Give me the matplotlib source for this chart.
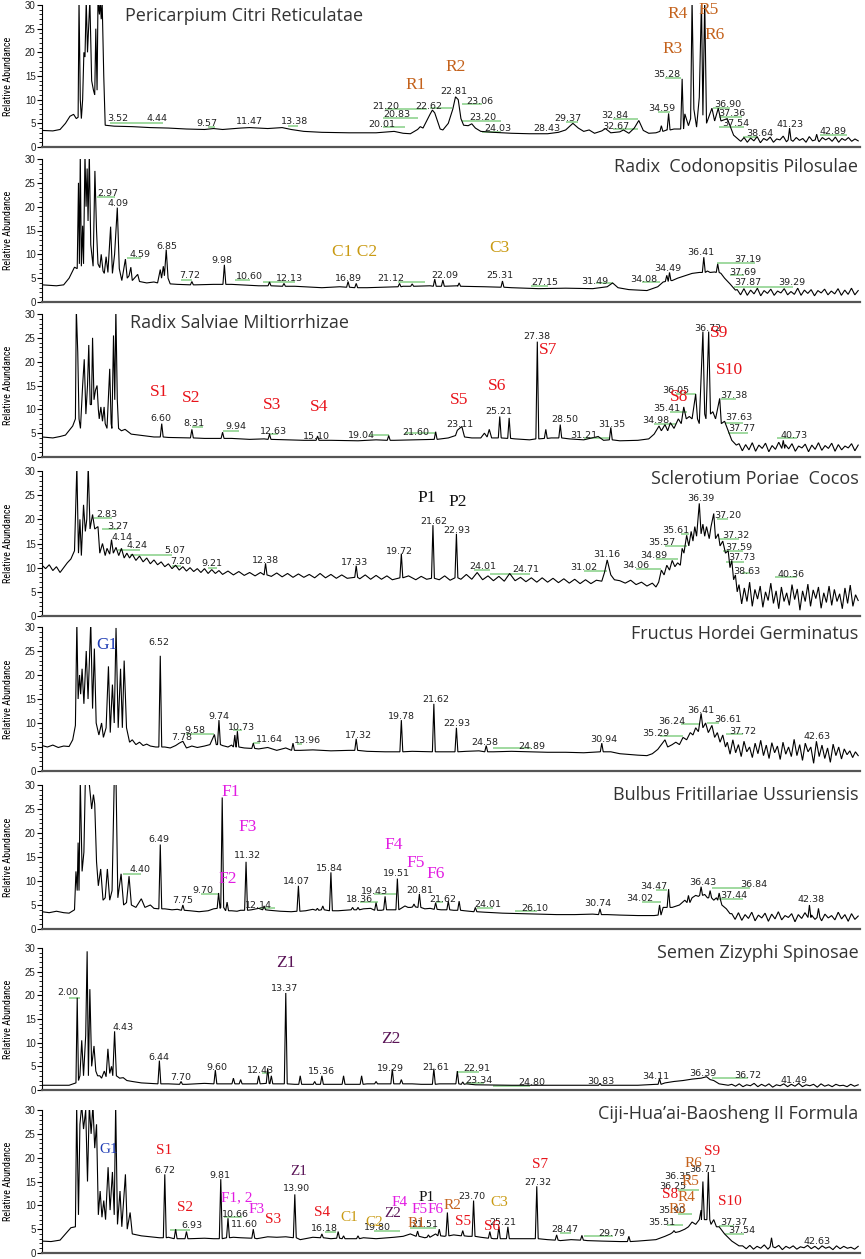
import numpy as np
import matplotlib
matplotlib.use("Agg")
import matplotlib.pyplot as plt
from matplotlib import font_manager as fm

# ---------------- fonts ----------------
_avail = {f.name for f in fm.fontManager.ttflist}
def pick(*names):
    for n in names:
        if n in _avail:
            return n
    return "DejaVu Sans"
NARROW = pick("Liberation Sans Narrow", "Roboto Condensed", "DejaVu Sans")
TITLEF = pick("Open Sans", "Noto Sans", "DejaVu Sans")
SERIF = pick("Liberation Serif", "DejaVu Serif")
SANS = pick("Liberation Sans", "DejaVu Sans")

# ---------------- colours of marker labels ----------------
COL = {"R": "#C4621C", "C": "#C99A12", "S": "#E8141B", "P": "#111111",
       "G": "#1E3CB4", "F": "#E21CE2", "Z": "#5A1457"}

# ================= DATA =================
# ---- Panel 1 : Pericarpium Citri Reticulatae
p1_title = "Pericarpium Citri Reticulatae"
p1_base = [(0.0,3.5),(0.6,3.4),(1.0,3.7),(1.3,5.0),(1.55,6.5),(1.75,6.9),(1.9,6.0),(2.0,6.3),
    (2.05,31),(2.12,10),(2.18,6.0),(2.25,10),(2.32,20),(2.38,19),(2.45,31),(2.52,20),(2.58,25),(2.65,31),
    (2.75,14),(2.85,12),(2.92,11),(2.98,25),(3.05,12),(3.1,31),(3.18,28),(3.22,31),(3.28,27),(3.33,31),
    (3.42,15),(3.5,4.6),(4.0,4.4),(5.0,4.3),(6.0,4.1),(7.0,4.0),(8.0,3.8),(9.0,3.7),(9.5,3.9),(10.0,3.7),
    (11.0,4.0),(11.5,4.1),(12.5,3.9),(13.3,4.1),(13.8,3.7),(14.5,3.3),(15.5,3.1),(17.0,3.0),(18.5,3.0),
    (19.5,3.3),(20.0,2.9),(20.4,2.8),(20.8,3.7),(20.95,4.3),(21.1,4.0),(21.3,5.5),(21.5,7.0),(21.62,7.8),
    (21.75,7.2),(21.9,5.5),(22.05,3.8),(22.2,3.6),(22.5,5.0),(22.75,8.0),(22.9,10.6),(23.05,10.0),(23.2,6.0),
    (23.35,4.6),(23.6,4.5),(23.8,4.9),(24.0,4.0),(24.3,3.3),(25.0,3.1),(26.0,2.9),(27.0,2.8),(28.0,2.8),
    (28.6,3.1),(29.0,3.6),(29.4,5.0),(29.7,4.0),(30.0,3.3),(30.3,3.6),(30.6,2.9),(31.0,3.4),(31.2,3.9),
    (31.5,3.0),(32.0,3.2),(32.2,3.6),(32.5,2.9),(32.8,4.0),(33.05,5.6),(33.3,3.5),(33.6,2.9),(34.0,3.0),
    (34.6,3.6),(35.0,3.8),(35.6,7.0),(35.8,4.5),(35.92,6),(36.0,31),(36.1,8),(36.25,4.2),(36.4,10.5),
    (36.52,31),(36.6,6.7),(36.7,31),(36.8,5.0),(37.1,8.2),(37.25,5.5),(37.45,8.2),(37.6,5.5),(37.95,6.0),
    (38.3,2.5),(38.6,1.5)]
p1_peaks = [(34.3,4.5,3.3),(34.7,7.1,3.6),(35.45,14.4,3.8),(41.4,4.0,1.5),(42.9,2.7,1.5)]
p1_noise_span = (38.7, 45.2)
p1_noise = [1.2,2.0,1.0,1.9,1.3,2.2,0.9,1.8,1.4,2.1,1.0,1.7,1.5,2.3,1.1,1.9,1.2,2.0,1.4,1.8,1.0,2.2,
            1.3,1.7,1.1,2.0,1.5,1.9,1.2,2.1,1.0,1.8,1.4,2.0,1.2,1.7,1.3]
p1_rt = [("3.52",4.2,6.1),("4.44",6.35,6.1),("9.57",9.15,5.0),("11.47",11.5,5.4),("13.38",14.0,5.4),
    ("21.20",19.05,8.6),("20.83",19.65,6.9),("20.01",18.8,4.8),("22.62",21.4,8.6),("22.81",22.8,11.8),
    ("23.06",24.25,9.7),("23.20",24.4,6.2),("24.03",25.25,3.9),("28.43",27.95,3.9),("29.37",29.1,6.0),
    ("32.84",31.7,6.7),("32.67",31.8,4.4),("34.59",34.3,8.1),("35.28",34.6,15.3),("36.90",38.0,9.0),
    ("37.36",38.2,7.1),("37.54",38.4,5.0),("38.64",39.75,2.9),("41.23",41.4,4.8),("42.89",43.8,3.2)]
p1_green = [(3.77,6.7,5.0),(9.2,9.6,4.3),(13.6,14.2,4.5),(19.0,21.3,8.0),(18.9,20.8,6.1),(18.9,20.1,4.2),
    (21.5,22.7,8.2),(23.25,24.35,9.0),(23.25,25.4,5.5),(24.35,25.4,3.2),(29.0,29.7,5.2),(31.6,33.0,5.9),
    (31.6,33.0,3.9),(34.1,34.8,7.5),(34.5,35.4,14.5),(37.15,38.1,8.2),(37.5,38.75,6.3),(37.5,38.9,4.2),
    (38.8,39.6,2.1),(43.1,44.6,2.5)]
p1_marks = [("R1",20.7,13.0,"R"),("R2",22.9,16.8,"R"),("R3",34.9,20.7,"R"),("R4",35.2,28.1,"R"),
    ("R5",36.9,28.9,"R"),("R6",37.25,23.7,"R")]

# ---- Panel 2 : Radix Codonopsitis Pilosulae
p2_title = "Radix  Codonopsitis Pilosulae"
p2_base = [(0.0,3.6),(0.8,3.4),(1.2,3.6),(1.5,5.0),(1.8,7.3),(1.95,7.0),(2.02,25),(2.07,8),(2.12,31),
    (2.18,7.5),(2.25,16),(2.3,8),(2.38,31),(2.44,20),(2.5,28),(2.55,17),(2.62,31),(2.7,12),(2.83,7.5),
    (2.93,27.5),(3.02,15),(3.1,8),(3.2,7.2),(3.28,10),(3.38,6.5),(3.45,6),(3.55,9.5),(3.65,6.2),(3.8,15.8),
    (3.9,6),(4.02,10),(4.17,19.8),(4.28,7),(4.42,4.5),(4.62,9.0),(4.72,5),(4.82,5.5),(4.92,7.3),(5.0,4.5),
    (5.3,5.8),(5.4,4.3),(5.8,4.0),(6.2,4.2),(6.4,4.0),(6.55,6.8),(6.62,5),(6.72,7.5),(6.78,5.5),(6.88,11),
    (6.98,5),(7.1,3.8),(7.5,3.7),(8.5,3.6),(9.5,3.7),(10.5,3.7),(12.0,3.4),(14.0,3.3),(15.5,3.0),(16.5,3.2),
    (18.0,3.0),(20.0,3.3),(21.5,3.4),(23.0,3.4),(24.5,3.2),(26.0,3.0),(27.5,2.8),(29.0,2.9),(30.5,2.8),
    (31.3,3.2),(31.6,4.0),(31.9,3.0),(32.5,2.6),(33.5,2.4),(34.1,3.2),(34.4,4.2),(34.9,4.5),(35.2,5.0),
    (35.6,5.5),(36.0,6.0),(36.4,6.2),(36.85,6.5),(37.0,6.2),(37.25,6.3),(37.6,6.0),(37.8,5.0),(38.1,3.8),
    (38.4,2.5)]
p2_peaks = [(8.3,4.3,3.6),(10.1,7.8,3.7),(12.6,4.2,3.4),(13.4,3.9,3.3),(16.95,4.3,3.1),(17.4,3.9,3.0),
    (19.8,3.9,3.2),(20.5,3.8,3.3),(21.75,4.8,3.3),(22.2,4.6,3.3),(23.1,4.0,3.3),(25.5,4.4,3.1),
    (34.6,5.6,4.3),(34.75,6.2,4.5),(36.65,9.4,6.2),(37.42,8.0,6.2)]
p2_noise_span = (38.5, 45.2)
p2_noise = [2.6,1.5,2.8,1.4,2.5,1.7,2.9,1.3,2.4,1.8,2.7,1.4,2.3,1.9,2.8,1.5,2.2,1.6,2.9,1.4,2.5,1.8,
            2.6,1.3,2.4,1.9,2.7,1.5,2.3,1.7,2.8,1.4,2.5,1.6,2.9,1.5,2.4]
p2_rt = [("2.97",3.66,22.8),("4.09",4.2,20.7),("4.59",5.43,9.9),("6.85",6.9,11.7),("7.72",8.2,5.5),
    ("9.98",9.95,8.8),("10.60",11.5,5.3),("12.13",13.7,5.0),("16.89",16.95,5.0),("21.12",19.3,5.0),
    ("22.09",22.3,5.5),("25.31",25.35,5.5),("27.15",27.85,4.0),("31.49",30.6,4.4),("34.08",33.3,4.8),
    ("34.49",34.65,7.1),("36.41",36.5,10.3),("37.19",39.1,9.0),("37.69",38.8,6.1),("37.87",39.1,4.0),
    ("39.29",41.5,4.0)]
p2_green = [(3.05,4.05,22.0),(4.7,5.5,9.2),(7.7,8.3,4.6),(10.7,11.5,4.6),(12.25,14.0,4.2),(19.7,21.2,4.2),
    (27.1,28.0,3.3),(30.7,31.6,4.0),(33.2,34.2,4.2),(37.4,39.5,8.2),(38.1,38.9,5.6),(38.3,41.6,3.1)]
p2_marks = [("C1 C2",17.3,10.5,"C"),("C3",25.35,11.3,"C")]

# ---- Panel 3 : Radix Salviae Miltiorrhizae
p3_title = "Radix Salviae Miltiorrhizae"
p3_base = [(0.0,4.2),(0.6,4.0),(1.0,4.3),(1.3,4.6),(1.7,6.5),(1.85,8),(1.9,31),(1.98,22),(2.05,8),
    (2.13,6),(2.25,15),(2.34,20.5),(2.43,9),(2.52,15),(2.59,23.5),(2.67,11),(2.74,11),(2.8,25),(2.88,12),
    (2.96,14),(3.05,15),(3.12,10),(3.17,8),(3.26,10.5),(3.35,7.5),(3.44,10.5),(3.5,7),(3.6,6),(3.75,18.5),
    (3.83,7),(3.87,6),(3.96,25.5),(4.03,12),(4.09,31),(4.17,12),(4.24,6),(4.4,5.5),(4.6,5.8),(4.94,4.8),
    (5.56,4.5),(6.2,4.2),(7.0,4.1),(8.0,4.0),(9.0,3.9),(10.5,3.9),(11.5,3.7),(12.3,3.8),(13.5,3.6),
    (14.5,3.5),(16.0,3.5),(17.5,3.4),(18.5,3.6),(19.5,3.5),(20.5,3.6),(21.5,3.7),(22.5,4.0),(22.9,4.5),
    (23.0,5.6),(23.12,6.0),(23.25,6.4),(23.4,4.2),(23.8,4.0),(24.3,4.0),(24.5,5.0),(24.65,4.2),(24.77,5.8),
    (24.9,4.0),(26.2,3.8),(27.0,3.6),(28.2,4.0),(29.2,3.8),(30.0,3.6),(30.8,4.3),(31.1,3.5),(32.0,3.4),
    (33.0,3.5),(33.6,3.8),(33.9,4.8),(34.17,6.5),(34.3,5.5),(34.5,6.8),(34.65,5.5),(34.8,7.2),(35.0,6.0),
    (35.24,8.0),(35.4,7.0),(35.54,10.5),(35.68,8.0),(35.85,8.5),(36.0,8.0),(36.2,13.2),(36.3,8),(36.4,7),
    (36.6,26.3),(36.7,9),(36.77,8),(36.92,26.3),(37.02,9),(37.15,9.5),(37.3,8.0),(37.53,12.3),(37.62,7),
    (37.8,7.5),(38.0,5.5),(38.2,3.5),(38.45,2.5)]
p3_peaks = [(6.63,7.0,4.2),(8.3,5.8,4.0),(10.0,5.2,3.9),(12.6,4.8,3.7),(15.26,4.4,3.5),(19.2,4.5,3.5),
    (21.8,5.3,3.7),(25.35,8.5,4.0),(25.87,8.2,3.9),(27.43,24.2,3.8),(27.9,5.8,3.9),(28.7,6.8,4.0),
    (31.5,6.2,3.6),(41.05,3.5,1.8)]
p3_noise_span = (38.6, 45.2)
p3_noise = [2.8,1.3,2.6,1.5,3.0,1.2,2.5,1.8,2.9,1.1,2.4,1.6,3.1,1.3,2.6,1.7,2.8,1.2,2.3,1.9,2.7,1.1,
            2.5,1.6,3.0,1.4,2.4,1.8,2.9,1.2,2.6,1.5,2.3,1.9,2.8,1.3,2.5]
p3_rt = [("6.60",6.57,8.1),("8.31",8.4,7.0),("9.94",10.76,6.3),("12.63",12.8,5.3),("15.10",15.2,4.4),
    ("19.04",17.7,4.6),("21.60",20.7,5.2),("23.11",23.15,6.8),("25.21",25.3,9.6),("27.38",27.4,25.2),
    ("28.50",28.97,7.9),("31.21",30.0,4.6),("31.35",31.57,6.8),("34.98",34.0,7.6),("35.41",34.6,10.2),
    ("36.05",35.1,13.9),("36.72",36.85,27.0),("37.38",38.3,13.0),("37.63",38.6,8.2),("37.77",38.76,6.0),
    ("40.73",41.66,4.6)]
p3_green = [(8.3,8.9,6.3),(10.0,10.9,5.5),(12.6,13.05,4.8),(18.1,19.2,4.6),(20.1,21.8,5.0),(30.0,31.4,4.0),
    (33.9,35.1,6.9),(34.8,35.7,9.5),(35.1,36.2,13.2),(37.6,38.45,12.2),(37.8,38.8,7.2),(38.0,39.1,5.1),
    (40.7,41.8,3.9)]
p3_marks = [("S1",6.47,13.7,"S"),("S2",8.25,12.4,"S"),("S3",12.75,11.0,"S"),("S4",15.35,10.4,"S"),
    ("S5",23.1,11.9,"S"),("S6",25.2,14.9,"S"),("S7",28.05,22.5,"S"),("S8",35.3,12.6,"S"),
    ("S9",37.5,26.0,"S"),("S10",38.05,18.3,"S")]

# ---- Panel 4 : Sclerotium Poriae Cocos
p4_title = "Sclerotium Poriae  Cocos"
p4_base = [(0.0,10.5),(0.2,9.8),(0.4,10.6),(0.6,9.4),(0.8,10.2),(1.0,9.0),(1.2,10.0),(1.4,11.0),(1.6,11.8),
    (1.8,13.5),(1.93,31),(2.02,13),(2.1,20),(2.18,12.5),(2.3,23),(2.4,17.5),(2.48,20),(2.56,31),(2.66,18),
    (2.8,21),(2.92,18),(3.1,18.5),(3.2,13),(3.35,15),(3.5,12.5),(3.6,14),(3.75,12.8),(3.85,15.8),(3.95,13),
    (4.1,14.2),(4.25,12.5),(4.4,14),(4.55,12),(4.7,13),(4.85,12),(5.0,12.8),(5.2,11.5),(5.4,12.4),(5.6,11.2),
    (5.8,12),(6.0,10.8),(6.2,11.6),(6.4,10.6),(6.6,11.2),(6.8,10.2),(7.0,10.8),(7.2,9.8),(7.4,10.5),(7.6,9.5),
    (7.8,10.2),(8.0,9.3),(8.2,10.0),(8.4,9.2),(8.6,9.8),(8.8,9.0),(9.0,9.8),(9.2,8.8),(9.4,9.6),(9.6,8.8),
    (9.8,9.4),(10.0,8.6),(10.3,9.3),(10.6,8.5),(10.9,9.2),(11.2,8.4),(11.5,9.0),(11.8,8.3),(12.1,9.0),
    (12.7,8.2),(13.0,8.9),(13.3,8.1),(13.6,8.8),(13.9,8.0),(14.2,8.7),(14.5,8.0),(14.8,8.6),(15.1,7.9),
    (15.4,8.8),(15.7,7.9),(16.0,8.6),(16.3,7.8),(16.6,8.5),(16.9,7.8),(17.6,7.7),(17.9,8.5),(18.2,7.6),
    (18.5,8.4),(18.8,7.6),(19.1,8.3),(19.4,7.5),(20.3,8.3),(20.7,7.5),(21.0,8.2),(21.3,7.6),(22.0,7.5),
    (22.3,8.3),(22.6,7.4),(23.2,7.6),(23.5,8.6),(23.8,7.6),(24.1,9.0),(24.4,7.5),(24.7,8.3),(25.0,7.3),
    (25.3,8.2),(25.6,7.2),(25.9,8.8),(26.2,7.3),(26.5,8.0),(26.8,7.1),(27.1,7.9),(27.4,7.0),(27.7,7.9),
    (28.0,7.0),(28.3,7.8),(28.6,6.9),(28.9,7.7),(29.2,6.8),(29.5,7.6),(29.8,6.7),(30.1,7.5),(30.4,6.7),
    (30.7,7.4),(31.0,7.2),(31.15,9.0),(31.3,11.6),(31.5,8.5),(31.7,7.5),(32.0,7.3),(32.3,6.8),(32.6,7.4),
    (32.9,6.5),(33.2,7.0),(33.5,6.2),(33.8,6.8),(34.0,6.0),(34.15,7.0),(34.3,9.5),(34.45,8.5),(34.6,10.5),
    (34.75,9.5),(34.9,11.5),(35.05,10.2),(35.2,11.0),(35.35,10.5),(35.45,14.0),(35.55,13.0),(35.7,16.7),
    (35.82,14.5),(35.95,17.5),(36.05,15.5),(36.15,18.5),(36.25,16.5),(36.4,23.3),(36.5,17),(36.6,19),
    (36.7,16.5),(36.8,18.5),(36.95,16),(37.05,18.5),(37.2,21.2),(37.3,16),(37.45,17),(37.55,14.5),
    (37.7,15.5),(37.85,13.0),(38.0,13.5),(38.1,10.0),(38.2,11.5),(38.3,7.5),(38.4,8.5),(38.5,5.0)]
p4_peaks = [(12.38,10.9,8.5),(17.4,10.4,8.0),(19.9,12.9,7.9),(21.65,18.8,7.8),(22.95,17.0,7.9)]
p4_noise_span = (38.6, 45.2)
p4_noise = [6.5,2.5,5.8,3.0,7.0,2.0,5.5,3.5,6.2,1.8,5.0,3.2,6.8,2.6,5.2,1.5,6.0,3.0,4.8,2.2,6.5,3.4,
            5.6,1.2,5.2,3.0,6.6,2.0,5.4,3.6,6.0,1.6,4.8,2.8,6.2,2.2,5.5,3.0,4.6,1.5,5.8,2.6,6.4,2.0,4.4,3.2]
p4_rt = [("2.83",3.57,21.1),("3.27",4.2,18.5),("4.14",4.45,16.3),("4.24",5.25,14.6),("5.07",7.33,13.5),
    ("7.20",7.7,11.2),("9.21",9.4,10.8),("12.38",12.4,11.5),("17.33",17.3,11.0),("19.72",19.8,13.4),
    ("21.62",21.7,19.5),("22.93",23.0,17.6),("24.01",24.4,10.3),("24.71",26.8,9.6),("31.02",30.0,10.1),
    ("31.16",31.26,12.65),("34.06",32.9,10.5),("34.89",33.9,12.6),("35.57",34.3,15.3),("35.61",35.1,17.6),
    ("36.39",36.5,24.3),("37.20",38.0,20.8),("37.32",38.45,16.7),("37.59",38.6,14.2),("37.73",38.76,12.1),
    ("38.63",39.06,9.2),("40.36",41.5,8.5)]
p4_green = [(2.9,3.9,20.3),(3.3,4.2,18.1),(4.2,5.4,13.7),(4.9,7.2,12.7),(7.2,7.7,10.4),(9.2,9.7,10.0),
    (23.9,24.8,9.5),(24.8,27.0,8.7),(30.0,31.3,9.4),(32.9,34.3,9.8),(34.0,35.2,11.7),(34.5,35.7,14.5),
    (35.4,35.85,16.9),(37.4,38.0,20.0),(37.5,38.6,16.0),(37.7,38.8,13.4),(37.9,38.85,11.2),(38.75,39.2,8.9),
    (40.6,41.8,8.0)]
p4_marks = [("P1",21.3,24.5,"P"),("P2",23.0,23.5,"P")]

# ---- Panel 5 : Fructus Hordei Germinatus
p5_title = "Fructus Hordei Germinatus"
p5_base = [(0.0,5.3),(0.3,5.0),(0.6,5.4),(0.9,4.9),(1.2,5.2),(1.5,5.1),(1.7,6.5),(1.85,9.5),(1.93,31),
    (2.0,15),(2.08,20),(2.14,16),(2.22,21.3),(2.32,14),(2.45,25),(2.55,15),(2.7,31),(2.8,13),(2.9,25.5),
    (3.0,10),(3.15,7.5),(3.3,10),(3.4,7),(3.55,9),(3.68,21.8),(3.78,8),(3.9,18),(4.0,10),(4.1,29.8),
    (4.22,9),(4.35,21.3),(4.45,9),(4.55,23),(4.68,9),(4.85,6),(5.0,6.5),(5.2,5.5),(5.4,6.0),(5.6,5.3),
    (5.8,5.6),(6.0,5.2),(6.3,5.0),(6.8,5.0),(7.1,4.8),(7.4,5.3),(7.6,5.8),(7.8,6.2),(8.0,4.8),(8.3,5.2),
    (8.6,4.9),(9.0,5.2),(9.3,5.5),(9.55,7.6),(9.65,5.5),(10.0,5.3),(10.3,5.0),(10.5,5.4),(11.2,4.8),
    (12.0,4.6),(12.5,4.9),(13.0,4.3),(13.5,4.8),(14.3,4.3),(15.0,4.4),(16.0,4.2),(17.0,4.3),(18.0,4.1),
    (19.0,4.0),(20.5,4.1),(22.3,4.0),(23.5,4.1),(24.2,4.2),(25.0,4.0),(26.0,4.1),(27.0,4.0),(28.0,3.9),
    (29.0,3.9),(30.0,3.8),(30.5,3.9),(31.5,4.0),(32.0,3.6),(33.0,3.3),(33.5,3.2),(33.8,3.6),(34.1,4.5),
    (34.3,5.5),(34.5,6.5),(34.65,5.0),(34.9,5.5),(35.1,6.0),(35.3,5.5),(35.5,7.0),(35.7,6.5),(35.9,8.0),
    (36.05,7.5),(36.2,9.0),(36.35,8.2),(36.5,12.0),(36.6,9.0),(36.75,10.0),(36.9,8.0),(37.1,9.5),
    (37.25,7.0),(37.4,8.0),(37.55,6.0),(37.7,7.5),(37.85,5.0)]
p5_peaks = [(6.55,24.0,5.0),(9.8,10.6,5.5),(10.68,7.5,5.0),(10.82,8.3,5.0),(11.7,5.8,4.7),(13.9,5.8,4.3),
    (17.4,6.7,4.3),(19.9,10.6,4.0),(21.7,14.0,4.0),(22.95,9.0,4.0),(24.6,5.3,4.0),(31.0,5.8,4.0)]
p5_noise_span = (37.95, 45.2)
p5_noise = [6.0,3.5,6.5,3.8,5.5,3.0,6.2,4.0,5.0,2.8,5.8,3.6,6.4,3.2,5.4,2.6,5.9,3.8,5.2,2.4,6.0,3.5,
            5.0,3.0,6.6,3.2,5.5,2.2,5.8,4.0,5.0,1.6,6.2,3.0,5.4,2.6,4.8,1.8,5.6,3.2,5.0,2.5,4.6,3.4,4.2,
            2.8,4.0,3.2]
p5_rt = [("6.52",6.47,26.7),("7.78",7.76,7.0),("9.58",8.46,8.5),("9.74",9.78,11.3),("10.73",11.06,9.1),
    ("11.64",12.6,6.6),("13.96",14.7,6.4),("17.32",17.5,7.5),("19.78",19.9,11.3),("21.62",21.8,14.8),
    ("22.93",23.0,9.8),("24.58",24.5,5.9),("24.89",27.1,5.2),("30.94",31.1,6.6),("35.29",34.0,7.8),
    ("36.24",34.9,10.3),("36.41",36.5,12.7),("36.61",38.0,10.7),("37.72",38.8,8.2),("42.63",42.9,7.2)]
p5_green = [(8.0,9.5,7.8),(10.6,11.06,8.6),(11.7,12.1,5.8),(14.1,14.4,5.7),(25.0,27.1,4.7),(34.2,35.5,7.2),
    (35.4,36.4,9.8),(36.8,37.5,9.9),(37.9,38.8,7.8)]
p5_marks = [("G1",3.57,26.2,"G")]

# ---- Panel 6 : Bulbus Fritillariae Ussuriensis
p6_title = "Bulbus Fritillariae Ussuriensis"
p6_base = [(0.0,3.6),(0.4,3.4),(0.8,3.7),(1.2,3.4),(1.5,3.3),(1.8,4.0),(1.88,12),(1.95,8),(2.0,18),(2.05,8),
    (2.12,31),(2.22,12),(2.32,16),(2.4,31),(2.52,31),(2.6,31),(2.75,25),(2.85,28),(2.92,26),(3.02,14),
    (3.12,9),(3.25,12.5),(3.38,6),(3.5,6.5),(3.62,12.5),(3.75,6),(3.88,8),(4.0,31),(4.1,31),(4.2,6.5),
    (4.38,11.5),(4.52,5),(4.68,5.5),(4.82,11),(4.95,5),(5.2,4.5),(5.5,6.3),(5.7,4.5),(6.0,5.0),(6.2,4.3),
    (6.8,4.2),(7.2,4.0),(7.5,4.1),(8.2,3.8),(8.7,3.6),(9.2,3.8),(9.5,4.2),(10.5,3.8),(10.8,3.7),(11.0,3.9),
    (11.6,4.0),(12.0,4.3),(12.6,3.9),(13.2,3.7),(13.8,3.6),(14.6,3.8),(15.0,4.1),(16.4,3.8),(16.8,3.9),
    (17.8,4.2),(18.2,4.3),(18.8,3.9),(19.3,4.0),(20.1,4.8),(21.2,4.2),(21.5,4.3),(22.1,4.0),(22.8,3.9),
    (23.4,3.8),(24.5,3.5),(25.5,3.3),(26.5,3.2),(27.5,3.1),(28.5,3.0),(29.5,3.0),(30.5,3.1),(31.3,3.0),
    (32.0,2.9),(33.0,2.8),(33.9,2.8),(34.4,4.5),(34.9,4.5),(35.3,5.0),(35.6,6.0),(36.0,6.5),(36.2,7.0),
    (36.35,6.8),(36.7,7.2),(36.85,6.5),(37.2,6.0),(37.35,6.5),(37.65,5.0),(37.9,4.2),(38.1,3.2)]
p6_peaks = [(6.55,17.6,4.2),(7.8,5.0,3.9),(9.78,7.5,4.3),(9.98,27.4,4.5),(10.25,5.6,3.8),(11.3,14.0,3.9),
    (12.3,4.8,4.0),(14.2,9.0,3.7),(15.25,4.3,3.9),(15.55,4.8,4.0),(16.0,11.8,3.8),(17.2,4.5,4.0),
    (17.5,4.5,4.0),(18.5,5.5,3.9),(19.0,6.8,4.0),(19.68,10.5,4.0),(20.35,4.5,4.5),(20.6,5.2,4.6),
    (20.9,7.3,4.5),(21.8,5.5,4.1),(22.5,5.8,4.0),(23.1,5.8,3.9),(24.0,4.5,3.6),(30.9,4.2,3.0),
    (34.2,5.0,2.9),(34.7,8.3,4.5),(35.8,7.0,5.5),(36.5,8.8,7.0),(37.0,8.0,6.5),(37.5,7.5,6.0),
    (42.5,5.0,2.4),(43.0,4.3,2.4)]
p6_noise_span = (38.2, 45.2)
p6_noise = [3.2,2.0,3.4,1.8,3.0,2.2,3.5,1.7,2.9,2.3,3.3,1.6,3.1,2.1,3.6,1.9,2.8,2.4,3.2,1.5,3.0,2.2,
            3.4,1.8,2.9,2.0,3.3,1.7,3.1,2.3,2.8,1.9,3.5,2.1,3.0,1.6,3.2,2.0,2.7]
p6_rt = [("4.40",5.4,12.4),("6.49",6.47,18.6),("7.75",7.8,5.9),("9.70",8.9,8.0),("11.32",11.37,15.4),
    ("12.14",12.0,4.9),("14.07",14.1,9.8),("15.84",15.9,12.7),("18.36",17.6,6.1),("19.43",18.4,7.8),
    ("19.51",19.6,11.5),("20.81",20.9,8.0),("21.62",22.2,6.1),("24.01",24.7,5.2),("26.10",27.3,4.2),
    ("30.74",30.8,5.4),("34.02",33.1,6.4),("34.47",33.9,8.9),("36.43",36.6,9.6),("36.84",39.4,9.2),
    ("37.44",38.3,7.0),("42.38",42.6,6.1)]
p6_green = [(4.5,5.5,11.5),(8.8,9.8,7.3),(12.0,12.9,4.3),(17.6,18.6,5.6),(18.4,19.6,7.3),(21.8,22.2,5.6),
    (24.1,25.0,4.3),(26.2,27.4,3.7),(33.25,34.3,5.7),(34.0,34.6,8.2),(37.1,39.2,8.5),(37.5,38.8,6.3)]
p6_marks = [("F1",10.45,28.6,"F"),("F2",10.3,10.5,"F"),("F3",11.37,21.3,"F"),("F4",19.5,17.5,"F"),
    ("F5",20.7,13.8,"F"),("F6",21.8,11.5,"F")]

# ---- Panel 7 : Semen Zizyphi Spinosae
p7_title = "Semen Zizyphi Spinosae"
p7_base = [(0.0,1.0),(0.8,1.0),(1.5,1.0),(1.88,1.5),(1.95,19.5),(2.02,2),(2.1,3),(2.2,10.5),(2.3,3),
    (2.42,11.5),(2.5,29.3),(2.57,3),(2.65,21.3),(2.75,5),(2.88,9.3),(2.98,4),(3.08,3),(3.2,3),(3.3,2.5),
    (3.45,4),(3.55,2.8),(3.65,8.7),(3.75,3.5),(3.85,5),(3.92,3),(4.02,12.4),(4.12,3),(4.3,2.5),(4.5,2.6),
    (4.7,2.0),(5.0,1.8),(5.5,1.5),(6.0,1.4),(7.0,1.3),(8.0,1.2),(9.0,1.4),(10.0,1.3),(11.5,1.3),(13.0,1.3),
    (14.0,1.2),(15.0,1.2),(16.0,1.2),(17.0,1.2),(18.0,1.3),(19.0,1.3),(20.5,1.3),(21.0,1.2),(22.0,1.3),
    (23.5,1.3),(24.0,1.1),(26.0,1.0),(28.0,1.0),(30.0,1.0),(31.5,1.0),(33.0,1.0),(34.0,1.2),(34.5,1.5),
    (35.0,1.8),(35.5,2.0),(36.0,2.3),(36.5,2.5),(36.8,2.8),(37.0,2.2),(37.2,2.0),(37.5,1.3),(38.0,1.0)]
p7_peaks = [(6.5,6.2,1.3),(7.7,1.8,1.2),(9.6,4.2,1.3),(10.6,2.5,1.3),(11.0,2.2,1.3),(12.0,3.0,1.3),
    (12.5,4.6,1.4),(12.7,3.0,1.3),(13.5,20.5,1.3),(14.3,3.0,1.2),(15.1,1.8,1.2),(15.5,3.0,1.2),
    (16.7,3.0,1.2),(17.7,3.0,1.2),(18.5,1.8,1.3),(19.4,4.4,1.3),(19.9,2.2,1.3),(21.7,4.5,1.2),
    (23.0,4.0,1.3),(23.3,1.7,1.2),(30.9,1.4,1.0),(34.2,2.4,1.2)]
p7_noise_span = (38.2, 45.2)
p7_noise = [1.2,0.8,1.3,0.7,1.1,0.9,1.4,0.7,1.2,0.8,1.3,0.6,1.1,0.9,1.3,0.7,1.2,0.8,1.4,0.7,1.1,0.9,
            1.2,0.6,1.3,0.8,1.1,0.7,1.2,0.9,1.0,0.7,1.2,0.8,1.1]
p7_rt = [("2.00",1.43,20.5),("4.43",4.5,13.2),("6.44",6.47,6.9),("7.70",7.7,2.6),("9.60",9.7,4.8),
    ("12.43",12.1,4.1),("13.37",13.45,21.4),("15.36",15.5,3.9),("19.29",19.3,4.6),("21.61",21.8,4.8),
    ("22.91",24.1,4.6),("23.34",24.2,2.1),("24.80",27.1,1.6),("30.83",30.95,1.8),("34.11",34.0,2.9),
    ("36.39",36.6,3.4),("36.72",39.1,3.1),("41.49",41.66,2.1)]
p7_green = [(1.5,2.1,19.5),(12.2,12.6,3.6),(23.0,24.2,3.7),(23.5,24.5,1.4),(25.0,27.0,0.9),(37.1,39.1,2.5)]
p7_marks = [("Z1",13.5,26.8,"Z"),("Z2",19.3,10.7,"Z")]

# ---- Panel 8 : Ciji-Hua'ai-Baosheng II Formula
p8_title = "Ciji-Hua\u2019ai-Baosheng II Formula"
p8_base = [(0.0,2.5),(0.5,2.4),(1.0,2.7),(1.3,4.0),(1.6,5.3),(1.85,5.5),(1.92,31),(2.02,8),(2.1,27),(2.2,31),
    (2.3,26),(2.42,30),(2.52,15),(2.62,31),(2.72,25),(2.82,31),(2.92,22),(3.02,27),(3.12,8),(3.22,13),
    (3.32,7.5),(3.42,11),(3.52,7),(3.66,18),(3.77,9),(3.9,17),(4.0,8),(4.08,31),(4.18,6),(4.32,13),
    (4.42,5.5),(4.62,16.5),(4.72,5),(4.88,8.5),(5.0,4.0),(5.5,3.6),(6.0,3.4),(6.5,3.2),(7.0,3.3),(7.6,3.0),
    (8.2,3.0),(9.0,3.1),(9.5,3.0),(10.6,3.3),(11.0,3.2),(11.9,3.0),(12.5,3.4),(13.0,3.3),(13.5,3.4),
    (14.3,2.8),(15.0,3.3),(16.0,3.0),(17.0,3.0),(17.8,3.2),(18.5,3.0),(19.5,3.3),(20.0,3.5),(20.4,4.0),
    (21.2,3.2),(21.8,4.0),(22.3,3.5),(22.8,3.8),(23.6,3.5),(24.3,3.3),(25.0,3.0),(26.2,3.0),(27.0,3.0),
    (28.0,2.8),(28.7,2.6),(29.3,2.8),(30.2,2.6),(31.0,2.5),(32.0,2.4),(33.0,2.5),(34.0,2.8),(34.5,3.5),
    (34.8,4.0),(35.3,4.5),(35.6,5.0),(35.8,5.5),(36.0,6.5),(36.2,6.0),(36.4,7.0),(36.5,9.0),(36.72,7.0),
    (37.05,6.0),(37.2,7.0),(37.35,5.5),(37.5,5.5),(37.8,4.0),(38.2,2.5),(38.6,1.5)]
p8_peaks = [(6.8,16.5,3.2),(7.4,5.0,3.0),(8.0,4.5,3.0),(9.9,15.5,3.0),(10.3,7.3,3.2),(11.7,5.0,3.1),
    (14.0,12.3,3.2),(15.5,4.0,3.2),(16.4,4.5,3.1),(16.7,3.6,3.0),(17.5,3.6,3.0),(20.8,4.6,3.5),
    (21.4,3.8,3.3),(22.0,5.0,3.6),(22.45,8.5,3.6),(23.3,4.7,3.6),(23.9,11.0,3.5),(24.8,4.5,3.1),
    (25.3,5.5,3.0),(25.8,5.5,3.0),(27.4,14.0,3.0),(28.5,3.8,2.7),(29.9,3.7,2.7),(32.5,3.5,2.4),
    (35.0,4.7,4.3),(36.6,15.0,7.0),(36.9,17.0,7.0),(40.4,3.2,1.3)]
p8_noise_span = (38.8, 45.2)
p8_noise = [1.5,0.9,1.6,0.8,1.4,1.0,1.7,0.8,1.3,1.1,1.6,0.7,1.4,1.0,1.5,0.8,1.3,1.1,1.6,0.9,1.4,0.8,
            1.5,1.0,1.3,0.7,1.5,0.9,1.4,1.0,1.2,0.8,1.4]
p8_rt = [("6.72",6.78,17.4),("6.93",8.3,5.7),("9.81",9.84,16.2),("10.66",10.7,8.0),("11.60",11.2,5.9),
    ("13.90",14.1,13.6),("16.18",15.65,5.2),("19.80",18.56,5.4),("21.51",21.2,5.9),("23.70",23.8,11.9),
    ("25.21",25.5,6.3),("27.32",27.44,14.8),("28.47",28.97,4.9),("29.79",31.57,4.0),("35.51",34.3,6.4),
    ("35.90",34.9,8.9),("36.25",34.95,13.9),("36.35",35.2,16.0),("36.71",36.6,17.6),("37.37",38.3,6.4),
    ("37.54",38.76,4.7),("42.63",42.9,2.4)]
p8_green = [(7.1,8.2,4.9),(10.1,11.1,7.5),(15.65,16.3,4.5),(18.4,19.8,4.7),(20.4,21.8,5.2),(28.7,29.3,4.2),
    (30.0,31.6,3.6),(34.6,35.5,5.9),(35.2,36.0,8.2),(35.2,36.4,13.3),(37.5,38.3,5.6),(37.8,38.9,4.0)]
p8_marks = [("G1",3.7,21.8,"G"),("S1",6.78,21.4,"S"),("S2",7.94,9.6,"S"),("F1, 2",10.76,11.7,"F"),
    ("F3",11.9,9.2,"F"),("S3",12.8,7.1,"S"),("Z1",14.2,17.2,"Z"),("S4",15.5,8.4,"S"),("C1",17.0,7.5,"C"),
    ("C2",18.4,6.3,"C"),("Z2",19.4,8.2,"Z"),("F4",19.8,10.6,"F"),("F5",20.9,9.1,"F"),("F6",21.8,9.1,"F"),
    ("P1",21.3,11.7,"P"),("R1",20.76,6.1,"R"),("R2",22.75,9.9,"R"),("C3",25.3,10.6,"C"),("S5",23.3,6.6,"S"),
    ("S6",24.9,5.6,"S"),("S7",27.6,18.5,"S"),("R3",35.2,9.2,"R"),("S8",34.8,12.2,"S"),("R4",35.7,11.6,"R"),
    ("R5",35.9,14.9,"R"),("R6",36.1,18.7,"R"),("S9",37.1,21.2,"S"),("S10",38.1,10.7,"S")]

# ================= LAYOUT =================
FIG_W, FIG_H = 865, 1259
AX_LEFT, AX_RIGHT = 42, 860
# (pixel y of the 30 line, pixel y of the 0 line) for each panel
PANEL_PX = [(5,147),(159,302),(314,457),(471,616),(627,771),(785,929),(948,1090),(1110,1253)]
TITLE_POS = [("left",0.1015,0.92),("right",0.998,0.944),("left",0.107,0.94),("right",0.998,0.947),
             ("right",0.998,0.953),("right",0.998,0.93),("right",0.998,0.964),("right",0.998,0.97)]
T_MAX = 45.3
W = 0.08

panels = [
    (p1_title,p1_base,p1_peaks,p1_noise_span,p1_noise,p1_rt,p1_green,p1_marks),
    (p2_title,p2_base,p2_peaks,p2_noise_span,p2_noise,p2_rt,p2_green,p2_marks),
    (p3_title,p3_base,p3_peaks,p3_noise_span,p3_noise,p3_rt,p3_green,p3_marks),
    (p4_title,p4_base,p4_peaks,p4_noise_span,p4_noise,p4_rt,p4_green,p4_marks),
    (p5_title,p5_base,p5_peaks,p5_noise_span,p5_noise,p5_rt,p5_green,p5_marks),
    (p6_title,p6_base,p6_peaks,p6_noise_span,p6_noise,p6_rt,p6_green,p6_marks),
    (p7_title,p7_base,p7_peaks,p7_noise_span,p7_noise,p7_rt,p7_green,p7_marks),
    (p8_title,p8_base,p8_peaks,p8_noise_span,p8_noise,p8_rt,p8_green,p8_marks),
]

def build_trace(base, peaks, span, noise):
    pts = []
    pk_t = [p[0] for p in peaks]
    for t, v in base:
        if all(abs(t - q) > W for q in pk_t):
            pts.append((t, v))
    for t, h, foot in peaks:
        pts += [(t - W, foot), (t, h), (t + W, foot)]
    ts = np.linspace(span[0], span[1], len(noise))
    pts += [(a, b) for a, b in zip(ts, noise) if all(abs(a - q) > W for q in pk_t)]
    pts.sort()
    arr = np.array(pts)
    return arr[:, 0], arr[:, 1]

fig = plt.figure(figsize=(FIG_W/100, FIG_H/100), dpi=100)
fig.patch.set_facecolor("white")

for i, (title, base, peaks, span, noise, rt, green, marks) in enumerate(panels):
    top, bot = PANEL_PX[i]
    ax = fig.add_axes([AX_LEFT/FIG_W, 1 - bot/FIG_H, (AX_RIGHT-AX_LEFT)/FIG_W, (bot-top)/FIG_H])
    t, v = build_trace(base, peaks, span, noise)
    ax.plot(t, v, color="black", lw=0.8, solid_joinstyle="miter")
    ax.set_xlim(0, T_MAX)
    ax.set_ylim(0, 30)
    for s in ("top", "right"):
        ax.spines[s].set_visible(False)
    ax.spines["bottom"].set_color("#555555")
    ax.spines["bottom"].set_linewidth(1.6)
    ax.spines["left"].set_linewidth(0.8)
    ax.set_xticks([])
    ax.set_yticks(np.arange(0, 31, 5))
    ax.set_yticks(np.arange(0, 31, 1), minor=True)
    ax.tick_params(axis="y", which="major", direction="out", length=3.5, width=0.8, pad=1,
                   labelsize=7, labelcolor="#222222")
    ax.tick_params(axis="y", which="minor", direction="out", length=2, width=0.6)
    for lab in ax.get_yticklabels():
        lab.set_family(SANS)
    ax.set_ylabel("Relative Abundance", fontsize=7.3, family=NARROW, labelpad=2)
    ax.yaxis.set_label_coords(-0.036, 0.5)

    for x0, x1, y in green:
        ax.plot([x0, x1], [y, y], color="#86cf86", lw=1.1, solid_capstyle="butt", zorder=1)
    for txt, x, y in rt:
        ax.text(x, y, txt, fontsize=6.8, family="DejaVu Sans", color="#222222",
                ha="center", va="center", zorder=3, clip_on=False)
    msize = 11 if i == 7 else 12.5
    for txt, x, y, k in marks:
        ax.text(x, y, txt, fontsize=msize, family=SERIF, color=COL[k], ha="center", va="center",
                zorder=4, clip_on=False)
    ha, fx, fy = TITLE_POS[i]
    ax.text(fx, fy, title, transform=ax.transAxes, fontsize=13, family=TITLEF, color="#333333",
            ha=ha, va="center", zorder=5)

fig.savefig("out.png", dpi=100, facecolor="white")
